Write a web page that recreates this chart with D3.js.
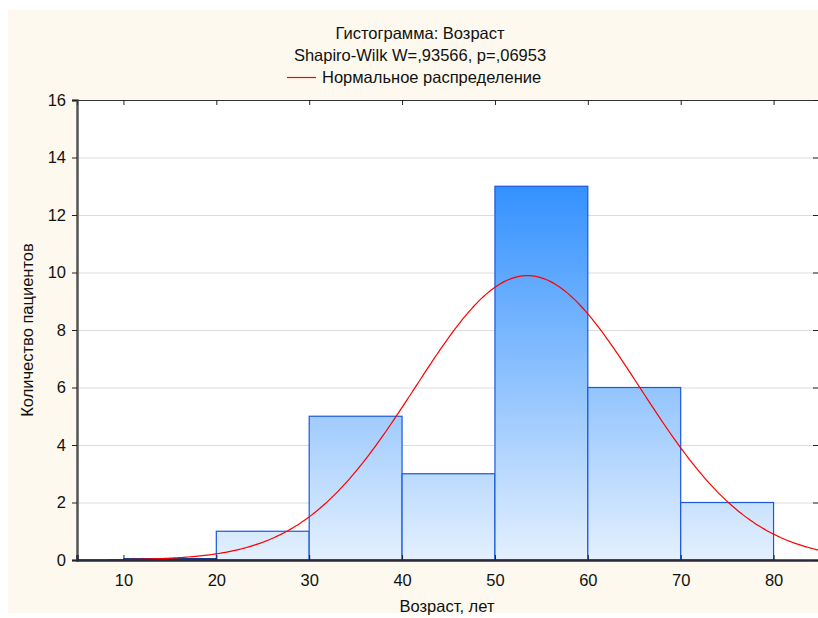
<!DOCTYPE html>
<html><head><meta charset="utf-8">
<script src="https://cdn.jsdelivr.net/npm/d3@7"></script>
<style>html,body{margin:0;padding:0;background:#fff;}svg{display:block;}</style>
</head><body>
<svg id="c" width="818" height="618"></svg>
<script>
// ---- data ----
const binStarts = [10, 20, 30, 40, 50, 60, 70];
const binCounts = [0, 1, 5, 3, 13, 6, 2];
const binWidth = 10;
const xTicks = [10, 20, 30, 40, 50, 60, 70, 80];
const yTicks = [0, 2, 4, 6, 8, 10, 12, 14, 16];
// fitted normal distribution (parameters)
const fitMean = [53.5];
const fitSd = [12.1];
const fitN = [30];
const titleLines = ["Гистограмма: Возраст", "Shapiro-Wilk W=,93566, p=,06953"];
const legendLabel = ["Нормальное распределение"];
const xLabel = "Возраст, лет";
const yLabel = "Количество пациентов";

const svg = d3.select("#c");
const font = "'Liberation Sans', Arial, sans-serif";
const FS = 16.5;
const L = 77, T = 100, B = 560, R = 820;
const x = d3.scaleLinear().domain([5, 85]).range([L, R]);
const y = d3.scaleLinear().domain([0, 16]).range([B, T]);

svg.append("rect").attr("x", 8).attr("y", 10).attr("width", 810).attr("height", 603).attr("fill", "#FDF9EE");
svg.append("rect").attr("x", L).attr("y", T).attr("width", R - L).attr("height", B - T).attr("fill", "#fff");

const defs = svg.append("defs");
const g = defs.append("linearGradient").attr("id", "bg").attr("gradientUnits", "userSpaceOnUse")
  .attr("x1", 0).attr("x2", 0).attr("y1", y(13)).attr("y2", y(0));
g.append("stop").attr("offset", 0).attr("stop-color", "#3391FF");
g.append("stop").attr("offset", 1).attr("stop-color", "#E4F0FD");
defs.append("clipPath").attr("id", "pc").append("rect").attr("x", L).attr("y", T).attr("width", R - L).attr("height", B - T);

// grid
svg.append("g").selectAll("line").data(yTicks.filter(d => d > 0 && d < 16)).join("line")
  .attr("x1", L).attr("x2", R).attr("y1", d => y(d) + 0.5).attr("y2", d => y(d) + 0.5)
  .attr("stroke", "#DCDCDC").attr("stroke-width", 1);

// bars
const bins = binStarts.map((s, i) => ({ s, c: binCounts[i] }));
svg.append("g").selectAll("rect").data(bins.filter(d => d.c > 0)).join("rect")
  .attr("x", d => x(d.s)).attr("y", d => y(d.c))
  .attr("width", d => x(d.s + binWidth) - x(d.s)).attr("height", d => y(0) - y(d.c))
  .attr("fill", "url(#bg)").attr("stroke", "#1A58DC").attr("stroke-width", 1.2);
svg.append("g").selectAll("line").data(bins.filter(d => d.c === 0)).join("line")
  .attr("x1", d => x(d.s)).attr("x2", d => x(d.s + binWidth)).attr("y1", y(0) - 1).attr("y2", y(0) - 1)
  .attr("stroke", "#1A3A8A").attr("stroke-width", 2);

// normal curve
const mu = fitMean[0], sd = fitSd[0], n = fitN[0];
const xs = d3.range(5, 85.01, 0.25);
const pdf = v => n * binWidth * Math.exp(-((v - mu) ** 2) / (2 * sd * sd)) / (sd * Math.sqrt(2 * Math.PI));
svg.append("path").datum(xs).attr("clip-path", "url(#pc)")
  .attr("d", d3.line().x(d => x(d)).y(d => y(pdf(d))))
  .attr("fill", "none").attr("stroke", "#FF0000").attr("stroke-width", 1.2);

// axes
const axL = d3.axisLeft(y).tickValues(yTicks).tickSize(5).tickPadding(6).tickFormat(d3.format("d"));
const gL = svg.append("g").attr("transform", `translate(${L},0)`).call(axL);
const axB = d3.axisBottom(x).tickValues(xTicks).tickSize(-5).tickPadding(14).tickFormat(d3.format("d"));
const gB = svg.append("g").attr("transform", `translate(0,${B})`).call(axB);
const axT = d3.axisTop(x).tickValues(xTicks).tickSize(-5).tickFormat("");
const gT = svg.append("g").attr("transform", `translate(0,${T})`).call(axT);
const axR = d3.axisRight(y).tickValues(yTicks).tickSize(-5).tickFormat("");
const gR = svg.append("g").attr("transform", `translate(${R - 2},0)`).call(axR);
[gL, gB, gT, gR].forEach(a => {
  a.selectAll("text").attr("font-family", font).attr("font-size", FS).attr("fill", "#111");
  a.selectAll(".tick line").attr("stroke", "#222");
});
gT.select(".domain").attr("stroke", "#333").attr("stroke-width", 1);
gR.select(".domain").attr("stroke", "#333").attr("stroke-width", 1);
gL.select(".domain").attr("stroke", "#555").attr("stroke-width", 2.5);
gB.select(".domain").attr("stroke", "#2A2A3A").attr("stroke-width", 2.5);

// titles
const cx = 420;
svg.append("text").attr("x", cx).attr("y", 39).attr("text-anchor", "middle")
  .attr("font-family", font).attr("font-size", FS).attr("fill", "#111").text(titleLines[0]);
svg.append("text").attr("x", cx).attr("y", 61).attr("text-anchor", "middle")
  .attr("font-family", font).attr("font-size", FS).attr("fill", "#111").text(titleLines[1]);
svg.append("line").attr("x1", 287).attr("x2", 316).attr("y1", 77.5).attr("y2", 77.5)
  .attr("stroke", "#FF0000").attr("stroke-width", 1.2);
svg.append("text").attr("x", 322).attr("y", 83).attr("font-family", font).attr("font-size", FS)
  .attr("fill", "#111").text(legendLabel[0]);

svg.append("text").attr("x", 447).attr("y", 612).attr("text-anchor", "middle")
  .attr("font-family", font).attr("font-size", FS).attr("fill", "#111").text(xLabel);
svg.append("text").attr("transform", "translate(33,330) rotate(-90)").attr("text-anchor", "middle")
  .attr("font-family", font).attr("font-size", FS).attr("fill", "#111").text(yLabel);
</script>
</body></html>
